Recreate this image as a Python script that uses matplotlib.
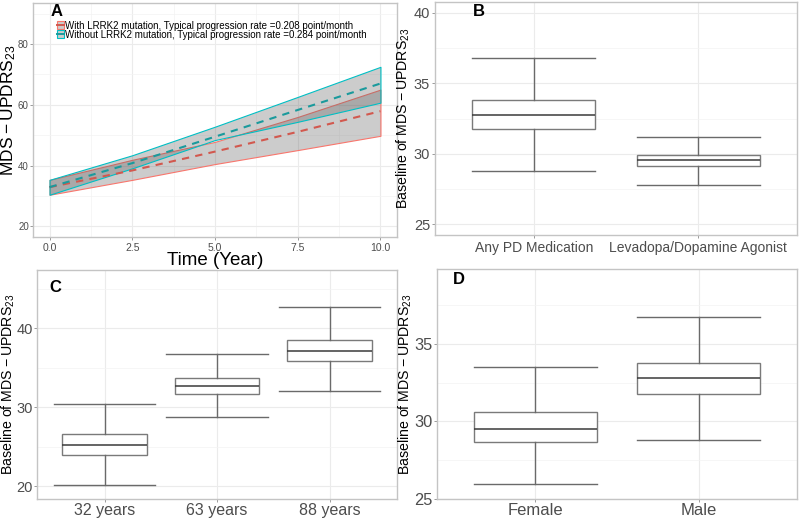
import numpy as np
import matplotlib
matplotlib.use("Agg")
import matplotlib.pyplot as plt
from matplotlib.ticker import MultipleLocator
from matplotlib.patches import Patch
from matplotlib.lines import Line2D

plt.rcParams['font.family'] = ['Liberation Sans', 'DejaVu Sans']
plt.rcParams['mathtext.fontset'] = 'custom'
plt.rcParams['mathtext.rm'] = 'Liberation Sans'
plt.rcParams['mathtext.it'] = 'Liberation Sans'

### Panel A: model predicted progression
time = [0.0, 2.5, 5.0, 7.5, 10.0]
with_mean = [32.9, 38.4, 44.6, 51.1, 57.9]
with_lo = [30.4, 35.3, 40.5, 45.1, 49.8]
with_hi = [35.3, 41.9, 47.8, 56.0, 65.0]
without_mean = [32.9, 40.8, 49.5, 58.3, 67.0]
without_lo = [30.4, 39.1, 48.4, 54.4, 60.7]
without_hi = [35.3, 43.4, 52.8, 62.6, 72.5]
labels_a = ["With LRRK2 mutation, Typical progression rate =0.208 point/month",
            "Without LRRK2 mutation, Typical progression rate =0.284 point/month"]

### Box panels: whisker low, Q1, median, Q3, whisker high
cats_b = ["Any PD Medication", "Levadopa/Dopamine Agonist"]
box_b = [[28.76, 31.79, 32.73, 33.82, 36.76],
         [27.80, 29.11, 29.54, 29.94, 31.21]]
cats_c = ["32 years", "63 years", "88 years"]
box_c = [[20.13, 24.00, 25.23, 26.62, 30.42],
         [28.73, 31.73, 32.66, 33.76, 36.71],
         [32.11, 35.82, 37.17, 38.52, 42.66]]
cats_d = ["Female", "Male"]
box_d = [[25.97, 28.67, 29.53, 30.62, 33.52],
         [28.82, 31.76, 32.77, 33.78, 36.74]]

RED = '#F8766D'
CYAN = '#00BFC4'
RED_D = '#D2584E'
CYAN_D = '#1A9A9C'
TXT = '#4D4D4D'
BAND = (0.35, 0.35, 0.35, 0.3)
YLAB = 'Baseline of MDS' + '\u2009\u2212\u2009' + 'UPDRS$_{23}$'

fig = plt.figure(figsize=(8, 5.18), dpi=100)
axA = fig.add_axes([0.04125, 0.5425, 0.455, 0.4517])
axB = fig.add_axes([0.5438, 0.5463, 0.4525, 0.4498])
axC = fig.add_axes([0.04625, 0.0367, 0.45, 0.4421])
axD = fig.add_axes([0.5463, 0.0367, 0.45, 0.444])


def style(ax, fs):
    for s in ax.spines.values():
        s.set_color('#C4C4C4')
        s.set_linewidth(1.0)
    ax.grid(which='major', color='#EBEBEB', linewidth=0.8)
    ax.grid(which='minor', color='#F3F3F3', linewidth=0.5)
    ax.set_axisbelow(True)
    ax.tick_params(which='major', length=2.5, width=0.6, color='#8A8A8A',
                   labelcolor=TXT, labelsize=fs, pad=1.5)
    ax.tick_params(which='minor', length=0)


### Panel A
t = np.array(time)
axA.fill_between(t, with_lo, with_hi, facecolor=BAND, edgecolor=RED, linewidth=0.8)
axA.fill_between(t, without_lo, without_hi, facecolor=BAND, edgecolor=CYAN, linewidth=0.8)
axA.plot(t, with_mean, color=RED_D, lw=1.5, dashes=(3.5, 3))
axA.plot(t, without_mean, color=CYAN_D, lw=1.5, dashes=(3.5, 3))
axA.set_xlim(-0.5, 10.5)
axA.set_ylim(16.5, 93.5)
axA.set_xticks(time)
axA.set_xticklabels(['0.0', '2.5', '5.0', '7.5', '10.0'])
axA.xaxis.set_minor_locator(MultipleLocator(1.25))
axA.set_yticks([20, 40, 60, 80])
axA.yaxis.set_minor_locator(MultipleLocator(10))
style(axA, 7.5)
axA.tick_params(axis='y', labelsize=7, pad=0.5)
axA.set_xlabel('Time (Year)', fontsize=13.5)
axA.xaxis.set_label_coords(0.5, -0.064)
axA.set_ylabel('MDS' + '\u2009\u2212\u2009' + 'UPDRS$_{23}$', fontsize=12.5)
axA.yaxis.set_label_coords(-0.042, 0.54)
handles = [(Patch(facecolor=BAND, edgecolor=RED, lw=0.8), Line2D([], [], color=RED_D, lw=1.4)),
           (Patch(facecolor=BAND, edgecolor=CYAN, lw=0.8), Line2D([], [], color=CYAN_D, lw=1.4))]
axA.legend(handles, labels_a, loc='upper left', bbox_to_anchor=(0.065, 0.925), frameon=False,
           fontsize=7.0, handlelength=0.8, handleheight=0.85, handletextpad=0.05,
           labelspacing=-0.1, borderpad=0, borderaxespad=0)
axA.text(0.047, 0.995, 'A', transform=axA.transAxes, fontsize=12, fontweight='bold', va='top')


def boxes(ax, stats_list, cats, capw):
    stats = [dict(whislo=s[0], q1=s[1], med=s[2], q3=s[3], whishi=s[4], fliers=[])
             for s in stats_list]
    pos = list(range(1, len(cats) + 1))
    ax.bxp(stats, positions=pos, widths=0.75, capwidths=capw, patch_artist=True,
           showfliers=False,
           boxprops=dict(facecolor='white', edgecolor='#7A7A7A', linewidth=1.0),
           whiskerprops=dict(color='#6A6A6A', linewidth=1.0),
           capprops=dict(color='#6A6A6A', linewidth=1.0),
           medianprops=dict(color='#3A3A3A', linewidth=1.1))
    ax.set_xlim(0.4, len(cats) + 0.6)
    ax.set_xticks(pos)
    ax.set_xticklabels(cats)


### Panel B
boxes(axB, box_b, cats_b, 0.75)
axB.set_ylim(24.25, 40.75)
axB.set_yticks([25, 30, 35, 40])
axB.yaxis.set_minor_locator(MultipleLocator(2.5))
style(axB, 10.5)
axB.tick_params(axis='y', pad=1)
axB.tick_params(axis='x', labelsize=10)
axB.set_ylabel(YLAB, fontsize=10.2)
axB.yaxis.set_label_coords(-0.064, 0.5)
axB.text(0.105, 0.993, 'B', transform=axB.transAxes, fontsize=12, fontweight='bold', va='top')

### Panel C
boxes(axC, box_c, cats_c, 0.9)
axC.set_ylim(18.4, 47.4)
axC.set_yticks([20, 30, 40])
axC.yaxis.set_minor_locator(MultipleLocator(5))
style(axC, 10.5)
axC.tick_params(axis='y', pad=0.5)
axC.tick_params(axis='x', labelsize=11.5, pad=0.5)
axC.set_ylabel(YLAB, fontsize=10.2)
axC.yaxis.set_label_coords(-0.0565, 0.5)
axC.text(0.035, 0.955, 'C', transform=axC.transAxes, fontsize=12, fontweight='bold', va='top')

### Panel D
boxes(axD, box_d, cats_d, 0.75)
axD.set_ylim(25, 39.83)
axD.set_yticks([25, 30, 35])
axD.yaxis.set_minor_locator(MultipleLocator(2.5))
style(axD, 11.8)
axD.tick_params(axis='y', pad=0.5)
axD.tick_params(axis='x', labelsize=12, pad=0.5)
axD.set_ylabel(YLAB, fontsize=10.2)
axD.yaxis.set_label_coords(-0.065, 0.5)
axD.text(0.045, 0.985, 'D', transform=axD.transAxes, fontsize=12, fontweight='bold', va='top')

fig.savefig('out.png', dpi=100)
